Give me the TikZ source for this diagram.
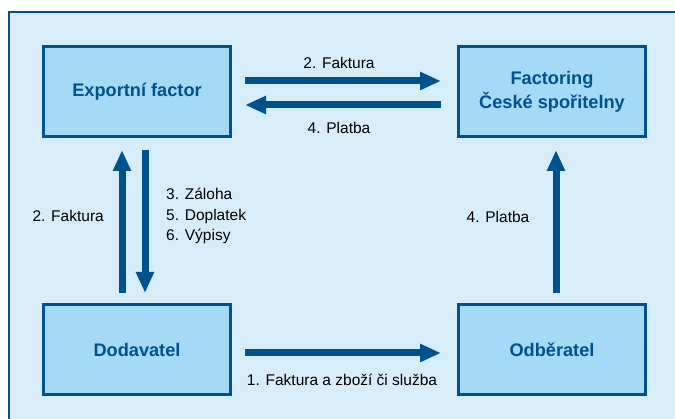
\documentclass[tikz,border=0pt]{standalone}
\usepackage{fontspec}
\setmainfont{Liberation Sans}
\usetikzlibrary{arrows.meta}
\definecolor{dblue}{HTML}{00528F}
\definecolor{bgblue}{HTML}{D7EDFA}
\definecolor{boxblue}{HTML}{A4DAF5}
\tikzset{
  ent/.style={draw=dblue, line width=3pt, fill=boxblue, minimum width=187pt, minimum height=90pt, inner sep=0pt, align=center, font=\fontsize{18.2}{24}\selectfont\bfseries, text=dblue},
  flow/.style={draw=dblue, line width=7pt, -{Triangle[length=21pt,width=17pt]}},
  lab/.style={font=\fontsize{15.5}{20.5}\selectfont, text=black, inner sep=0pt}
}
\begin{document}
\begin{tikzpicture}[x=1pt,y=-1pt]
\useasboundingbox (0,0) rectangle (675,419);
\fill[white] (0,0) rectangle (675,419);
\fill[bgblue] (9,12) rectangle (680,425);
\draw[dblue, line width=2.5pt] (9,425) -- (9,12) -- (680,12);
\node[ent] (ef) at (137,91.5) {Exportní factor};
\node[ent] (fcs) at (552,91.5) {Factoring\\České spořitelny};
\node[ent] (dod) at (137,350) {Dodavatel};
\node[ent] (odb) at (552,350) {Odběratel};
\coordinate (a1s) at (245,81); \coordinate (a1e) at (441,81);
\coordinate (a2s) at (441,105); \coordinate (a2e) at (245,105);
\draw[flow] (a1s) -- (a1e);
\draw[flow] (a2s) -- (a2e);
\coordinate (b1s) at (122,293); \coordinate (b1e) at (122,150);
\coordinate (b2s) at (145,150); \coordinate (b2e) at (145,293);
\draw[flow] (b1s) -- (b1e);
\draw[flow] (b2s) -- (b2e);
\coordinate (c1s) at (556,293); \coordinate (c1e) at (556,150);
\draw[flow] (c1s) -- (c1e);
\coordinate (d1s) at (245,353); \coordinate (d1e) at (441,353);
\draw[flow] (d1s) -- (d1e);
\node[lab] (l1) at (339,63) {2. Faktura};
\node[lab] (l2) at (339,128) {4. Platba};
\node[lab, anchor=east] (l3) at (104,216) {2. Faktura};
\node[lab, anchor=north west, align=left] (l4) at (166,188) {3. Záloha\\5. Doplatek\\6. Výpisy};
\node[lab] (l5) at (498,217) {4. Platba};
\node[lab] (l6) at (342,380) {1. Faktura a zboží či služba};
\end{tikzpicture}
\end{document}
